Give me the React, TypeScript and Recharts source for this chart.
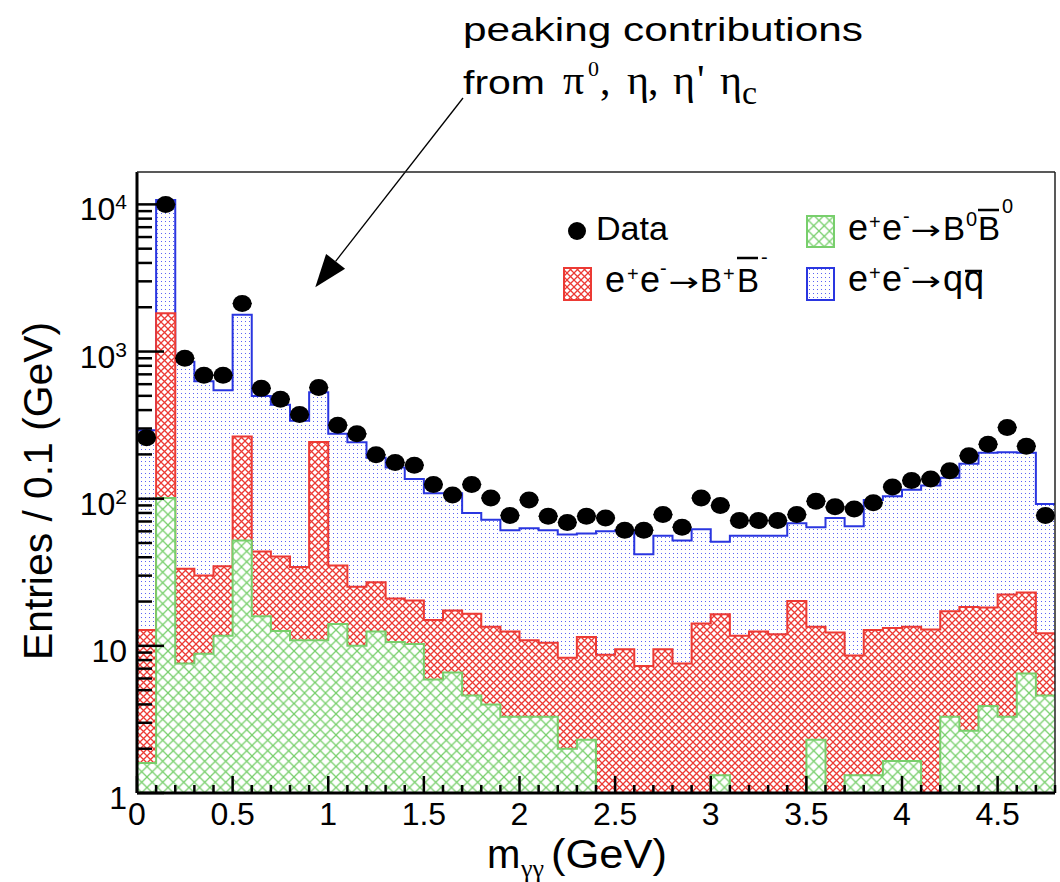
import React from 'react';
import { ComposedChart, Area, Scatter, XAxis, YAxis, ErrorBar } from 'recharts';

// ---------- data (bin centres in GeV, 0.1 GeV bins) ----------
const binCenters = [
  0.05, 0.15, 0.25, 0.35, 0.45, 0.55, 0.65, 0.75, 0.85, 0.95,
  1.05, 1.15, 1.25, 1.35, 1.45, 1.55, 1.65, 1.75, 1.85, 1.95,
  2.05, 2.15, 2.25, 2.35, 2.45, 2.55, 2.65, 2.75, 2.85, 2.95,
  3.05, 3.15, 3.25, 3.35, 3.45, 3.55, 3.65, 3.75, 3.85, 3.95,
  4.05, 4.15, 4.25, 4.35, 4.45, 4.55, 4.65, 4.75,
];
const dataCounts = [
  260, 10000, 900, 690, 690, 2120, 562, 474, 373, 569,
  316, 276, 199, 176, 169, 125, 106, 125, 101, 77,
  98, 76, 69, 76, 74, 61, 61, 78, 64, 101,
  90, 71, 71, 71, 78, 96, 88, 85, 94, 120,
  133, 136, 155, 196, 234, 305, 227, 77,
];
// stacked (cumulative) heights as drawn by the THStack
const qqStack = [
  292, 10700, 853, 628, 546, 1780, 498, 435, 338, 529,
  276, 242, 190, 163, 136, 109, 109, 80, 72, 61,
  63, 61, 57, 58, 60, 61, 42, 56, 52, 62,
  51, 56, 56, 56, 68, 64, 74, 65, 98, 104,
  115, 123, 139, 173, 205, 207, 205, 92,
];
const bpStack = [
  12.8, 1820, 33.4, 30.1, 34.7, 265, 43.7, 40.4, 34.3, 243,
  35.2, 25.2, 27, 21, 20.3, 15, 17.4, 16.5, 13.5, 12.5,
  10.9, 10.5, 8.3, 11.5, 8.7, 9.5, 7.3, 9.5, 7.6, 14.2,
  16.4, 11.7, 12.5, 12, 20.2, 13.5, 12.3, 8.6, 12.8, 13.2,
  13.5, 12.9, 17.2, 18.4, 18.2, 22.3, 23, 12.2,
];
const b0Stack = [
  1.6, 101, 7.6, 8.85, 11.7, 52, 15.9, 12.6, 10.9, 10.9,
  14.1, 10, 12.5, 10.6, 10.3, 5.9, 6.6, 4.6, 4.0, 3.3,
  3.3, 3.3, 2.0, 2.3, 0, 0, 0, 0, 0, 0,
  1.32, 0, 0, 0, 0, 2.3, 0, 1.32, 1.32, 1.65,
  1.65, 0, 3.3, 2.65, 3.9, 3.3, 6.5, 4.6,
];

const xMajorTicks = [0, 0.5, 1, 1.5, 2, 2.5, 3, 3.5, 4, 4.5];
const xTickLabels = ['0', '0.5', '1', '1.5', '2', '2.5', '3', '3.5', '4', '4.5'];
const yMajorTicks = [1, 10, 100, 1000, 10000];
const yTickLabels = [
  { base: '1', exp: '' },
  { base: '10', exp: '' },
  { base: '10', exp: '2' },
  { base: '10', exp: '3' },
  { base: '10', exp: '4' },
];
const yMultipliers = [1, 2, 3, 4, 5, 6, 7, 8, 9];

const BIN_WIDTH = 0.1;
const X_MAX = 4.8;
const Y_MIN = 1;
const Y_MAX = 16600;

// ---------- derived tables ----------
const lastBin = binCenters.length - 1;
const histRows = [
  ...binCenters.map((c, i) => ({
    x: Math.round((c - BIN_WIDTH / 2) * 100) / 100,
    qq: qqStack[i],
    bp: bpStack[i],
    b0: Math.max(b0Stack[i], Y_MIN),
  })),
  {
    x: Math.round((binCenters[lastBin] + BIN_WIDTH / 2) * 100) / 100,
    qq: qqStack[lastBin],
    bp: bpStack[lastBin],
    b0: Math.max(b0Stack[lastBin], Y_MIN),
  },
];
const dataPoints = binCenters.map((c, i) => ({ x: c, y: dataCounts[i], ex: BIN_WIDTH / 2 }));

const xAllTicks: number[] = [];
for (let i = 0; i <= Math.round(X_MAX / BIN_WIDTH); i++) xAllTicks.push(i / 10);
const yAllTicks: number[] = [];
yMajorTicks.slice(0, -1).forEach((d) => yMultipliers.forEach((m) => yAllTicks.push(m * d)));
yAllTicks.push(yMajorTicks[yMajorTicks.length - 1]);

const FONT = "'Liberation Sans', Arial, Helvetica, sans-serif";
const SERIF = "'Liberation Serif', 'Times New Roman', 'DejaVu Serif', serif";
const RED = '#ec3a34';
const GREEN = '#78cf6c';
const BLUE = '#2a36e0';

const XTick = (props: any) => {
  const { x, y, payload } = props;
  const v = payload.value;
  const idx = xMajorTicks.findIndex((t) => Math.abs(t - v) < 1e-6);
  const major = idx >= 0;
  return (
    <g>
      <line x1={x} x2={x} y1={y} y2={y - (major ? 17 : 8)} stroke="#000" strokeWidth={2.5} />
      {major && (
        <text x={x} y={y + 32} textAnchor="middle" fontSize={32} fontFamily={FONT} fill="#000">
          {xTickLabels[idx]}
        </text>
      )}
    </g>
  );
};

const YTick = (props: any) => {
  const { x, y, payload } = props;
  const v = payload.value;
  const idx = yMajorTicks.findIndex((t) => Math.abs(t - v) < 1e-6);
  const major = idx >= 0;
  const lab = major ? yTickLabels[idx] : null;
  return (
    <g>
      <line x1={x} x2={x + (major ? 27 : 15)} y1={y} y2={y} stroke="#000" strokeWidth={2.5} />
      {lab && (
        <text x={x - 10} y={y + 16} textAnchor="end" fontSize={32} fontFamily={FONT} fill="#000">
          <tspan>{lab.base}</tspan>
          {lab.exp && (
            <tspan fontSize={21} dy={-11}>
              {lab.exp}
            </tspan>
          )}
        </text>
      )}
    </g>
  );
};

const DataDot = (props: any) => {
  const { cx, cy } = props;
  if (cx == null || cy == null) return null;
  return <ellipse cx={cx} cy={cy} rx={9.5} ry={8.5} fill="#000" />;
};

const Sup = ({ x, y, t }: { x: number; y: number; t: string }) => (
  <text x={x} y={y} fontSize={20} fontFamily={FONT} fill="#000">
    {t}
  </text>
);
const Big = ({ x, y, t, s = 36 }: { x: number; y: number; t: string; s?: number }) => (
  <text x={x} y={y} fontSize={s} fontFamily={FONT} fill="#000">
    {t}
  </text>
);
// arrow glyph centred on cx, stretched horizontally like the ROOT "#rightarrow"
const Arrow = ({ cx, y }: { cx: number; y: number }) => (
  <g transform={`translate(${cx},${y}) scale(1.4,1)`}>
    <text x={0} y={0} fontSize={26} fontFamily="'DejaVu Sans', sans-serif" fill="#000" textAnchor="middle">
      →
    </text>
  </g>
);

export default function App() {
  return (
    <div style={{ position: 'absolute', left: 0, top: 0, width: 1060, height: 882, background: '#fff' }}>
      <ComposedChart
        width={1060}
        height={882}
        data={histRows}
        margin={{ top: 171, right: 4, bottom: 88, left: 136 }}
      >
        <defs>
          <pattern id="patBlue" width="4" height="4" patternUnits="userSpaceOnUse">
            <rect width="4" height="4" fill="#fff" />
            <rect x="1" y="1" width="1" height="1" fill="#5a64f4" />
          </pattern>
          <pattern id="patRed" width="7" height="7" patternUnits="userSpaceOnUse">
            <rect width="7" height="7" fill="#fff" />
            <path d="M-1,-1 L8,8 M8,-1 L-1,8" stroke={RED} strokeWidth="1.3" />
          </pattern>
          <pattern id="patGreen" width="10.5" height="10.5" patternUnits="userSpaceOnUse">
            <rect width="10.5" height="10.5" fill="#fff" />
            <path d="M-1,-1 L11.5,11.5 M11.5,-1 L-1,11.5" stroke={GREEN} strokeWidth="1.3" />
          </pattern>
        </defs>

        <Area
          type="stepAfter"
          dataKey="qq"
          stroke={BLUE}
          strokeWidth={2}
          fill="url(#patBlue)"
          fillOpacity={1}
          baseValue={Y_MIN}
          dot={false}
          activeDot={false}
          isAnimationActive={false}
        />
        <Area
          type="stepAfter"
          dataKey="bp"
          stroke={RED}
          strokeWidth={2}
          fill="url(#patRed)"
          fillOpacity={1}
          baseValue={Y_MIN}
          dot={false}
          activeDot={false}
          isAnimationActive={false}
        />
        <Area
          type="stepAfter"
          dataKey="b0"
          stroke={GREEN}
          strokeWidth={2}
          fill="url(#patGreen)"
          fillOpacity={1}
          baseValue={Y_MIN}
          dot={false}
          activeDot={false}
          isAnimationActive={false}
        />

        <XAxis
          dataKey="x"
          type="number"
          domain={[0, X_MAX]}
          ticks={xAllTicks}
          interval={0}
          allowDataOverflow
          height={1}
          tickSize={0}
          tickMargin={0}
          tickLine={false}
          tick={<XTick />}
          axisLine={{ stroke: '#000', strokeWidth: 3 }}
        />
        <YAxis
          type="number"
          scale="log"
          domain={[Y_MIN, Y_MAX]}
          ticks={yAllTicks}
          interval={0}
          allowDataOverflow
          width={1}
          tickSize={0}
          tickMargin={0}
          tickLine={false}
          tick={<YTick />}
          axisLine={{ stroke: '#000', strokeWidth: 3 }}
        />
        <XAxis
          xAxisId="top"
          orientation="top"
          type="number"
          domain={[0, 1]}
          height={1}
          tick={false}
          tickLine={false}
          axisLine={{ stroke: '#222', strokeWidth: 1.5 }}
        />
        <YAxis
          yAxisId="right"
          orientation="right"
          type="number"
          domain={[0, 1]}
          width={1}
          tick={false}
          tickLine={false}
          axisLine={{ stroke: '#222', strokeWidth: 1.5 }}
        />

        <Scatter data={dataPoints} dataKey="y" fill="#000" shape={<DataDot />} isAnimationActive={false}>
          <ErrorBar dataKey="ex" direction="x" width={0} stroke="#000" strokeWidth={1.5} />
        </Scatter>

        {/* axis titles */}
        <text
          transform="rotate(-90)"
          x={-491}
          y={52}
          textAnchor="middle"
          fontSize={40}
          fontFamily={FONT}
          fill="#000"
          textLength={338}
          lengthAdjust="spacingAndGlyphs"
        >
          Entries / 0.1 (GeV)
        </text>
        <text x={487} y={868} fontSize={40} fontFamily={FONT} fill="#000">
          m
        </text>
        <text x={521} y={877} fontSize={26} fontFamily={SERIF} fill="#000">
          γγ
        </text>
        <text x={551} y={868} fontSize={40} fontFamily={FONT} fill="#000" textLength={116} lengthAdjust="spacingAndGlyphs">
          (GeV)
        </text>

        {/* annotation */}
        <text x={463} y={41} fontSize={34} fontFamily={FONT} fill="#000" textLength={400} lengthAdjust="spacingAndGlyphs">
          peaking contributions
        </text>
        <text x={463} y={94} fontSize={34} fontFamily={FONT} fill="#000" textLength={82} lengthAdjust="spacingAndGlyphs">
          from
        </text>
        <text x={563} y={94} fontSize={42} fontFamily={SERIF} fill="#000">π</text>
        <text x={588} y={76} fontSize={22} fontFamily={SERIF} fill="#000">0</text>
        <text x={600} y={94} fontSize={42} fontFamily={SERIF} fill="#000">,</text>
        <text x={627} y={94} fontSize={42} fontFamily={SERIF} fill="#000">η</text>
        <text x={648} y={94} fontSize={42} fontFamily={SERIF} fill="#000">,</text>
        <text x={673} y={94} fontSize={42} fontFamily={SERIF} fill="#000">η</text>
        <text x={697} y={94} fontSize={42} fontFamily={SERIF} fill="#000">'</text>
        <text x={720} y={94} fontSize={42} fontFamily={SERIF} fill="#000">η</text>
        <text x={742} y={104} fontSize={34} fontFamily={SERIF} fill="#000">c</text>
        <line x1={463} y1={98} x2={335.6} y2={261.3} stroke="#000" strokeWidth={1.3} />
        <polygon points="315.3,287.3 345.1,268.7 326.1,253.9" fill="#000" />

        {/* legend */}
        <ellipse cx={577} cy={231} rx={9} ry={9} fill="#000" />
        <text x={596} y={240} fontSize={33} fontFamily={FONT} fill="#000" textLength={72} lengthAdjust="spacingAndGlyphs">
          Data
        </text>

        <rect x={564} y={268} width={27} height={32} fill="url(#patRed)" stroke={RED} strokeWidth={2} />
        <Big x={605} y={292} t="e" />
        <Sup x={627} y={281} t="+" />
        <Big x={640} y={292} t="e" />
        <Sup x={660} y={275} t="-" />
        <Arrow cx={684} y={291} />
        <Big x={700} y={292} t="B" s={33} />
        <Sup x={723} y={281} t="+" />
        <Big x={737} y={292} t="B" s={33} />
        <line x1={737} x2={758} y1={258} y2={258} stroke="#000" strokeWidth={2.5} />
        <Sup x={761} y={264} t="-" />

        <rect x={807} y={216} width={27} height={31} fill="url(#patGreen)" stroke={GREEN} strokeWidth={2} />
        <Big x={848} y={240} t="e" />
        <Sup x={869} y={229} t="+" />
        <Big x={882} y={240} t="e" />
        <Sup x={903} y={223} t="-" />
        <Arrow cx={926} y={239} />
        <Big x={943} y={240} t="B" s={33} />
        <Sup x={966} y={226} t="0" />
        <Big x={978} y={240} t="B" s={33} />
        <line x1={978} x2={999} y1={210} y2={210} stroke="#000" strokeWidth={2.5} />
        <Sup x={1002} y={213} t="0" />

        <rect x={807} y={268} width={27} height={32} fill="url(#patBlue)" stroke={BLUE} strokeWidth={2} />
        <Big x={848} y={291} t="e" />
        <Sup x={869} y={280} t="+" />
        <Big x={882} y={291} t="e" />
        <Sup x={903} y={274} t="-" />
        <Arrow cx={926} y={290} />
        <Big x={943} y={291} t="q" />
        <Big x={964} y={291} t="q" />
        <line x1={965} x2={982} y1={271} y2={271} stroke="#000" strokeWidth={2.5} />
      </ComposedChart>
    </div>
  );
}
